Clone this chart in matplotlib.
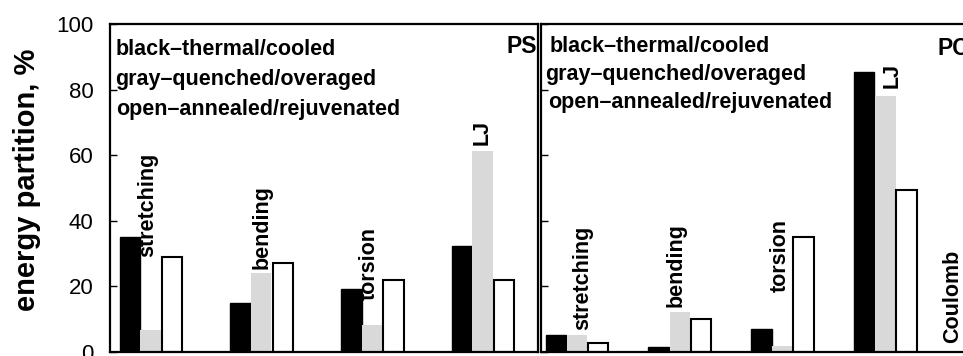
import matplotlib.pyplot as plt
import numpy as np

plt.rcParams['font.family'] = ['Liberation Sans', 'DejaVu Sans']

categories = ['stretching', 'bending', 'torsion', 'LJ']
legend_lines = ['black\u2013thermal/cooled', 'gray\u2013quenched/overaged', 'open\u2013annealed/rejuvenated']

# PS panel (black = thermal/cooled, gray = quenched/overaged, open = annealed/rejuvenated)
ps_black = [35.2, 14.9, 19.1, 32.2]
ps_gray = [6.7, 24.2, 8.1, 61.2]
ps_open = [29.0, 27.1, 22.0, 22.0]

# PC panel (Coulomb bars fall outside the cropped picture)
pc_black = [5.2, 1.5, 7.0, 85.3]
pc_gray = [5.2, 12.1, 1.9, 78.0]
pc_open = [2.8, 10.1, 35.0, 49.3]

yticks = [0, 20, 40, 60, 80, 100]

W, H = 963, 356
fig = plt.figure(figsize=(W / 100, H / 100), dpi=100)
axL = fig.add_axes([110 / W, 4 / H, 428 / W, 328 / H])
axR = fig.add_axes([541 / W, 4 / H, 429 / W, 328 / H])


def draw_panel(ax, black, gray, opn, w, offs, xlim):
    x = np.arange(len(black))
    ax.bar(x + offs[0], black, width=w, color='black', edgecolor='black', linewidth=1)
    ax.bar(x + offs[1], gray, width=w, color='#d9d9d9', edgecolor='none')
    ax.bar(x + offs[2], opn, width=w, color='white', edgecolor='black', linewidth=1.5)
    ax.set_xlim(*xlim)
    ax.set_ylim(0, 100)
    ax.set_xticks([])
    ax.set_yticks(yticks)
    ax.tick_params(axis='y', direction='in', length=5, width=1, labelsize=16, pad=12)
    for s in ax.spines.values():
        s.set_linewidth(1.6)


draw_panel(axL, ps_black, ps_gray, ps_open, 0.185, (0, 0.185, 0.38), (-0.181, 3.686))
draw_panel(axR, pc_black, pc_gray, pc_open, 0.2, (0, 0.205, 0.41), (-0.146, 4.03))
axR.tick_params(axis='y', labelleft=False)

# category labels
lab_kw = dict(rotation=90, ha='center', va='bottom', fontsize=15.5, fontweight='bold')
for name, (lx, ly) in zip(categories, [(0.16, 29), (1.19, 25.3), (2.16, 16), (3.18, 63.2)]):
    axL.text(lx, ly, name, **lab_kw)
for name, (lx, ly) in zip(categories + ['Coulomb'],
                          [(0.26, 6.7), (1.17, 13.8), (2.18, 18.4), (3.27, 80.6), (3.86, 2.7)]):
    axR.text(lx, ly, name, **lab_kw)

# in-panel legend text
for txt, (tx, ty) in zip(legend_lines, [(0.012, 0.905), (0.012, 0.814), (0.014, 0.723)]):
    axL.text(tx, ty, txt, transform=axL.transAxes, fontsize=15.5, fontweight='bold', va='baseline')
for txt, (tx, ty) in zip(legend_lines, [(0.021, 0.915), (0.009, 0.829), (0.016, 0.744)]):
    axR.text(tx, ty, txt, transform=axR.transAxes, fontsize=15.5, fontweight='bold', va='baseline')

axL.text(0.998, 0.912, 'PS', transform=axL.transAxes, fontsize=16.5, fontweight='bold',
         ha='right', va='baseline')
axR.text(0.998, 0.905, 'PC', transform=axR.transAxes, fontsize=16.5, fontweight='bold',
         ha='right', va='baseline')

fig.text(27 / W, 0.494, 'energy partition, %', rotation=90, ha='center', va='center',
         fontsize=21, fontweight='bold')

fig.savefig('out.png', dpi=100)
